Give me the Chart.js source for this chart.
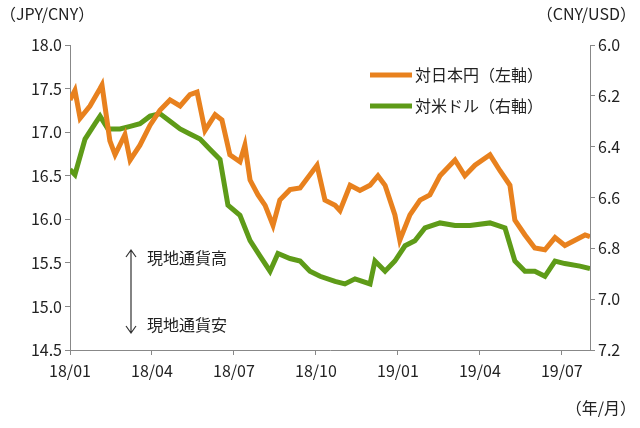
<!DOCTYPE html>
<html><head><meta charset="utf-8">
<script src="https://cdn.jsdelivr.net/npm/chart.js@4"></script>
<style>body{margin:0;background:#fff}#wrap{width:640px;height:428px}</style>
</head><body><div id="wrap"><canvas id="c"></canvas></div>
<script>
// months since 2018/01 -> value
const jpyCny = [[0,17.37],[0.18,17.48],[0.37,17.16],[0.73,17.3],[1.1,17.5],[1.17,17.54],[1.46,16.9],[1.65,16.74],[2.01,16.97],[2.2,16.68],[2.56,16.85],[2.93,17.08],[3.29,17.25],[3.66,17.37],[4.03,17.3],[4.39,17.43],[4.65,17.46],[4.94,17.02],[5.31,17.2],[5.56,17.14],[5.85,16.74],[6.22,16.66],[6.4,16.85],[6.59,16.45],[6.88,16.28],[7.14,16.16],[7.43,15.93],[7.68,16.22],[8.05,16.34],[8.42,16.36],[9.04,16.62],[9.33,16.22],[9.7,16.16],[9.88,16.1],[10.25,16.39],[10.61,16.33],[10.98,16.39],[11.27,16.5],[11.53,16.39],[11.89,16.05],[12.07,15.76],[12.44,16.05],[12.81,16.22],[13.17,16.28],[13.54,16.5],[14.09,16.68],[14.45,16.5],[14.82,16.62],[15.37,16.74],[15.73,16.56],[16.1,16.39],[16.28,15.99],[16.65,15.82],[17.01,15.67],[17.38,15.65],[17.75,15.79],[18.11,15.7],[18.48,15.76],[18.85,15.82],[19.03,15.8]];
const cnyUsd = [[0,6.49],[0.18,6.51],[0.55,6.37],[0.91,6.31],[1.1,6.28],[1.39,6.33],[1.83,6.33],[2.2,6.32],[2.56,6.31],[2.93,6.28],[3.29,6.27],[3.66,6.30],[4.03,6.33],[4.39,6.35],[4.76,6.37],[5.12,6.41],[5.49,6.45],[5.78,6.63],[6.22,6.67],[6.59,6.77],[6.95,6.83],[7.32,6.89],[7.61,6.82],[8.05,6.84],[8.42,6.85],[8.78,6.89],[9.15,6.91],[9.7,6.93],[10.06,6.94],[10.43,6.92],[10.98,6.94],[11.16,6.85],[11.53,6.89],[11.89,6.85],[12.26,6.79],[12.62,6.77],[12.99,6.72],[13.54,6.70],[14.09,6.71],[14.64,6.71],[15.37,6.70],[15.92,6.72],[16.28,6.85],[16.65,6.89],[17.01,6.89],[17.38,6.91],[17.75,6.85],[18.11,6.86],[18.66,6.87],[19.03,6.88]];
const xTickLabels = ["18/01","18/04","18/07","18/10","19/01","19/04","19/07"];
const seriesNames = ["対日本円（左軸）","対米ドル（右軸）"];
const colors = ["#E8811E","#5E9B18"];
const FONT = "'Noto Sans CJK JP', 'Noto Sans', sans-serif";

const extras = {
  id: "extras",
  afterDraw(chart) {
    const c = chart.ctx;
    c.save();
    c.fillStyle = "#222";
    c.font = "16px " + FONT;
    c.textBaseline = "middle";
    c.textAlign = "left";
    c.fillText("（JPY/CNY）", 0, 14);
    c.textAlign = "right";
    c.fillText("（CNY/USD）", 636, 14);
    c.fillText("（年/月）", 636, 408);
    // legend
    c.textAlign = "left";
    seriesNames.forEach((n, i) => {
      const y = 75 + i * 31;
      c.strokeStyle = colors[i]; c.lineWidth = 5;
      c.beginPath(); c.moveTo(370, y); c.lineTo(412, y); c.stroke();
      c.fillText(n, 415, y);
    });
    // arrow
    c.strokeStyle = "#333"; c.lineWidth = 1.2;
    c.beginPath(); c.moveTo(131, 250); c.lineTo(131, 333);
    c.moveTo(126, 257); c.lineTo(131, 250); c.lineTo(136, 257);
    c.moveTo(126, 326); c.lineTo(131, 333); c.lineTo(136, 326);
    c.stroke();
    c.fillText("現地通貨高", 147, 258);
    c.fillText("現地通貨安", 147, 325);
    c.restore();
  }
};

const tickStyle = { color: "#222", font: { size: 16, family: FONT } };
const axisGrid = { drawOnChartArea: false, color: "#888", tickLength: 5 };

new Chart(document.getElementById("c"), {
  type: "line",
  data: {
    datasets: [
      { label: seriesNames[0], data: jpyCny.map(p => ({x: p[0], y: p[1]})), borderColor: colors[0], borderWidth: 5, pointRadius: 0, yAxisID: "yL", tension: 0 },
      { label: seriesNames[1], data: cnyUsd.map(p => ({x: p[0], y: p[1]})), borderColor: colors[1], borderWidth: 5, pointRadius: 0, yAxisID: "yR", tension: 0 }
    ]
  },
  options: {
    responsive: true, maintainAspectRatio: false, animation: false,
    layout: { padding: { top: 45, right: 0, left: 0, bottom: 0 } },
    plugins: { legend: { display: false }, tooltip: { enabled: false } },
    scales: {
      x: {
        type: "linear", min: 0, max: 19.03,
        afterBuildTicks: a => { a.ticks = xTickLabels.map((_, i) => ({ value: i * 3 })); },
        afterFit: a => { a.height = 78; },
        ticks: { ...tickStyle, padding: 6, maxRotation: 0, callback: v => xTickLabels[v / 3] },
        grid: axisGrid,
        border: { color: "#888" }
      },
      yL: {
        position: "left", min: 14.5, max: 18.0,
        afterFit: a => { a.width = 70; },
        ticks: { ...tickStyle, stepSize: 0.5, callback: v => v.toFixed(1) },
        grid: axisGrid, border: { color: "#888" }
      },
      yR: {
        position: "right", min: 6.0, max: 7.2, reverse: true,
        afterFit: a => { a.width = 50; },
        ticks: { ...tickStyle, stepSize: 0.2, callback: v => v.toFixed(1) },
        grid: axisGrid, border: { color: "#888" }
      }
    }
  },
  plugins: [extras]
});
</script></body></html>
